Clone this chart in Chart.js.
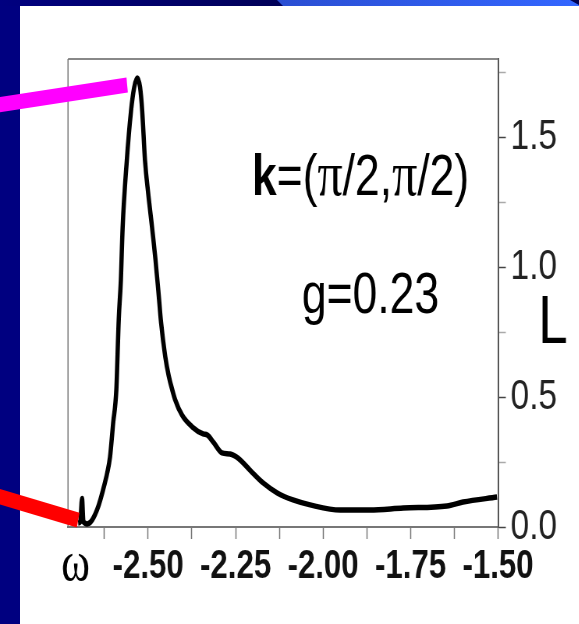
<!DOCTYPE html>
<html>
<head>
<meta charset="utf-8">
<script src="https://cdn.jsdelivr.net/npm/chart.js@4.4.1/dist/chart.umd.min.js"></script>
<style>
  html, body { margin: 0; padding: 0; width: 579px; height: 624px; overflow: hidden; background: #fff; }
  #leftBar { position: absolute; left: 0; top: 0; width: 20px; height: 624px; background: #000080; }
  #topDark { position: absolute; left: 0; top: 0; width: 579px; height: 6px;
             background: linear-gradient(to right, #000080, #000058 48%, #000050); }
  #topBlue { position: absolute; left: 277px; top: 0; width: 302px; height: 6px;
             background: linear-gradient(to right, #2a4ed2, #3366ff);
             clip-path: polygon(0 0, 293px 0, 302px 5px, 302px 6px, 6px 6px); }
  /* the slide picture is squeezed sideways, so the whole canvas is too */
  #chart { position: absolute; left: 0; top: 0; transform: scaleX(0.78); transform-origin: 0 0; }
</style>
</head>
<body>
<div id="leftBar"></div>
<div id="topDark"></div>
<div id="topBlue"></div>
<canvas id="chart" width="742" height="624"></canvas>
<script>
// spectral function L(k, omega) at k=(pi/2,pi/2), g=0.23
const omega = [-2.700, -2.694, -2.689, -2.685, -2.674, -2.660, -2.643, -2.629, -2.617, -2.609,
               -2.600, -2.591, -2.584, -2.578, -2.573, -2.561, -2.549, -2.540, -2.531, -2.523,
               -2.517, -2.509, -2.500, -2.489, -2.479, -2.471, -2.463, -2.451, -2.441, -2.431,
               -2.423, -2.403, -2.374, -2.343, -2.331, -2.314, -2.289, -2.266, -2.243, -2.209,
               -2.171, -2.131, -2.086, -2.037, -1.951, -1.866, -1.771, -1.646, -1.600, -1.503];
const lValues = [0.015, 0.020, 0.110, 0.020, 0.012, 0.027, 0.077, 0.142, 0.208, 0.269,
                 0.400, 0.527, 0.800, 0.950, 1.150, 1.410, 1.600, 1.690, 1.727, 1.690,
                 1.600, 1.410, 1.285, 1.154, 1.027, 0.910, 0.785, 0.654, 0.580, 0.527,
                 0.490, 0.430, 0.385, 0.358, 0.354, 0.327, 0.285, 0.281, 0.265, 0.219,
                 0.169, 0.131, 0.104, 0.085, 0.065, 0.065, 0.073, 0.081, 0.096, 0.115];
const xTickLabels = ['-2.50', '-2.25', '-2.00', '-1.75', '-1.50'];
const yTickLabels = ['0.0', '0.5', '1.0', '1.5'];

const peakIndex = lValues.indexOf(Math.max(...lValues));
const sans = "'Liberation Sans', Arial, sans-serif";
const serif = "'Liberation Serif', 'Times New Roman', serif";

const decorations = {
    id: 'decorations',
    afterDraw(chart) {
        const ctx = chart.ctx;
        const a = chart.chartArea;
        ctx.save();

        // top and left sides of the frame
        ctx.strokeStyle = '#888';
        ctx.lineWidth = 2;
        ctx.beginPath();
        ctx.moveTo(a.left, a.top);
        ctx.lineTo(a.right, a.top);
        ctx.stroke();
        ctx.strokeStyle = '#777';
        ctx.lineWidth = 1.5;
        ctx.beginPath();
        ctx.moveTo(a.left, a.top);
        ctx.lineTo(a.left, a.bottom);
        ctx.stroke();

        // k=(pi/2,pi/2) with bold k and serif pi
        ctx.fillStyle = '#000';
        ctx.textBaseline = 'alphabetic';
        ctx.textAlign = 'left';
        const parts = [
            ['k', 'bold 57px ' + sans], ['=(', '57px ' + sans], ['\u03c0', '64px ' + serif],
            ['/2,', '57px ' + sans], ['\u03c0', '64px ' + serif], ['/2)', '57px ' + sans]
        ];
        let x = 323;
        parts.forEach(p => {
            ctx.font = p[1];
            ctx.fillText(p[0], x, 195);
            x += ctx.measureText(p[0]).width;
        });
        ctx.font = '57px ' + sans;
        ctx.fillText('g=0.23', 387, 313);

        // axis names
        ctx.font = '68px ' + sans;
        ctx.fillText('L', 690, 343);
        ctx.font = '56px ' + serif;
        ctx.textAlign = 'center';
        ctx.fillText('\u03c9', 97, 580);

        // pointer bars
        const pts = chart.getDatasetMeta(0).data;
        const peak = pts[peakIndex];
        const first = pts[0];
        ctx.lineCap = 'butt';
        ctx.lineWidth = 15;
        ctx.strokeStyle = '#ff00ff';
        ctx.beginPath();
        ctx.moveTo(-20, 107);
        ctx.lineTo(peak.x - 13, peak.y + 7);
        ctx.stroke();
        ctx.strokeStyle = '#ff0000';
        ctx.beginPath();
        ctx.moveTo(-20, 492);
        ctx.lineTo(first.x, first.y - 3);
        ctx.stroke();

        ctx.restore();
    }
};

function onStep(v, step) {
    return Math.abs(v / step - Math.round(v / step)) < 1e-6;
}

var ctxSpectrum = document.getElementById('chart').getContext('2d');
var spectrumChart = new Chart(ctxSpectrum, {
    type: 'line',
    data: {
        datasets: [{
            label: 'L',
            data: omega.map((w, i) => ({ x: w, y: lValues[i] })),
            borderColor: '#000',
            borderWidth: 5.5,
            pointRadius: 0,
            cubicInterpolationMode: 'monotone',
            fill: false
        }]
    },
    options: {
        responsive: false,
        animation: false,
        events: [],
        layout: { padding: { left: 87.2, top: 59, right: 0, bottom: 33 } },
        plugins: {
            legend: { display: false },
            tooltip: { enabled: false }
        },
        scales: {
            x: {
                type: 'linear',
                position: 'bottom',
                min: -2.729,
                max: -1.5,
                afterFit: s => { s.height = 64; },
                ticks: {
                    stepSize: 0.125,
                    includeBounds: false,
                    autoSkip: false,
                    maxRotation: 0,
                    padding: 4,
                    color: '#111',
                    font: { family: sans, size: 40, weight: 'bold' },
                    callback: v => {
                        const s = v.toFixed(2);
                        return xTickLabels.includes(s) ? s : '';
                    }
                },
                grid: { drawOnChartArea: false, tickLength: 12, tickColor: '#777', tickWidth: 1.5 },
                border: { display: true, color: '#777', width: 2 }
            },
            y: {
                position: 'right',
                min: 0,
                max: 1.8,
                afterFit: s => { s.width = 103.5; },
                ticks: {
                    stepSize: 0.25,
                    includeBounds: false,
                    autoSkip: false,
                    padding: 6,
                    color: '#222',
                    font: { family: sans, size: 43 },
                    callback: v => {
                        const s = v.toFixed(1);
                        return onStep(v, 0.5) && yTickLabels.includes(s) ? s : '';
                    }
                },
                grid: {
                    drawOnChartArea: false,
                    tickLength: 10,
                    tickWidth: 1.5,
                    tickColor: c => (c.tick && onStep(c.tick.value, 0.5)) ? '#444' : '#aaa'
                },
                border: { display: true, color: '#555', width: 2 }
            }
        }
    },
    plugins: [decorations]
});
</script>
</body>
</html>
